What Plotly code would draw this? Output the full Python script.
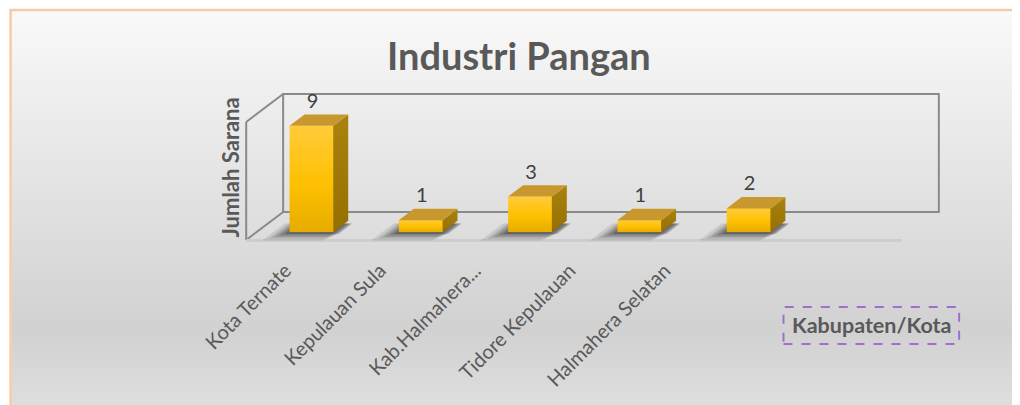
import base64, struct, zlib
import plotly.graph_objects as go

# ---------------- data ----------------
categories = ["Kota Ternate", "Kepulauan Sula", "Kab.Halmahera...", "Tidore Kepulauan", "Halmahera Selatan"]
values = [9, 1, 3, 1, 2]
chart_title = "Industri Pangan"
y_title = "Jumlah Sarana"
x_title = "Kabupaten/Kota"

# ---------------- geometry ----------------
W, H = 1020, 405
OFF = 8  # page body margin; screen px -> figure px


def fx(px):
    return (px - OFF) / W


def fy(py):
    return 1 - (py - OFF) / H


PX_L, PX_R, PX_T, PX_B = 200, 960, 80, 250  # plot area in screen px
XR = [(PX_L - 310) / 109.5, (PX_R - 310) / 109.5]
YR = [(232 - PX_B) / 11.8, (232 - PX_T) / 11.8]
X_MIN, X_MAX, V_MAX = -0.5, 5.5, 10
DX, DY = 0.338, 2.37        # full floor depth offset
TB = 0.286                  # depth of bar front plane
BD = 0.405                  # bar depth (fraction of floor depth)
BW = 0.40                   # bar width
BDX, BDY = BD * DX, BD * DY


def P(x, v, d):
    return x + (d - TB) * DX, v + (d - TB) * DY


def path(pts):
    return "M " + " L ".join(f"{x:.4f},{y:.4f}" for x, y in pts) + " Z"


# ---------------- background gradient png ----------------
def gradient_png(stops, h):
    raw = b""
    for r in range(h):
        t = r / (h - 1)
        c = stops[-1][1]
        for k in range(len(stops) - 1):
            if stops[k][0] <= t <= stops[k + 1][0]:
                t0, c0 = stops[k]
                t1, c1 = stops[k + 1]
                f = (t - t0) / (t1 - t0) if t1 > t0 else 0
                c = [round(c0[j] + (c1[j] - c0[j]) * f) for j in range(3)]
                break
        raw += b"\x00" + bytes(c)

    def chunk(tag, data):
        return struct.pack(">I", len(data)) + tag + data + struct.pack(">I", zlib.crc32(tag + data) & 0xffffffff)

    png = b"\x89PNG\r\n\x1a\n" + chunk(b"IHDR", struct.pack(">IIBBBBB", 1, h, 8, 2, 0, 0, 0))
    png += chunk(b"IDAT", zlib.compress(raw)) + chunk(b"IEND", b"")
    return "data:image/png;base64," + base64.b64encode(png).decode()


bg_src = gradient_png([(0, (249, 249, 249)), (0.787, (209, 209, 209)),
                       (0.98, (222, 222, 222)), (1, (223, 223, 223))], 400)

fig = go.Figure()

shapes = []
# frame: back wall, left wall, floor
frame_col = "#8a8a8a"
bw = [P(X_MIN, 0, 1), P(X_MAX, 0, 1), P(X_MAX, V_MAX, 1), P(X_MIN, V_MAX, 1)]
shapes.append(dict(type="path", path=path(bw), xref="x", yref="y", layer="below",
                   line=dict(color=frame_col, width=2)))
for a, b in [((X_MIN, V_MAX, 0), (X_MIN, V_MAX, 1)), ((X_MIN, 0, 0), (X_MIN, 0, 1)),
             ((X_MIN, 0, 0), (X_MIN, V_MAX, 0))]:
    (x0, y0), (x1, y1) = P(*a), P(*b)
    shapes.append(dict(type="line", x0=x0, y0=y0, x1=x1, y1=y1, xref="x", yref="y", layer="below",
                       line=dict(color=frame_col, width=2)))
(x0, y0), (x1, y1) = P(X_MIN, 0, 0), P(X_MAX, 0, 0)
shapes.append(dict(type="line", x0=x0, y0=y0 - 0.05, x1=x1, y1=y1 - 0.05, xref="x", yref="y", layer="below",
                   line=dict(color="#cdcdcd", width=3)))

# soft shadows on floor (layered to imitate blur)
for i, v in enumerate(values):
    for ex, ed, op in [(0.15, 0.30, 0.10), (0.11, 0.24, 0.13), (0.08, 0.18, 0.16),
                       (0.05, 0.12, 0.19), (0.02, 0.07, 0.22)]:
        xl = i - BW / 2 - ex
        xr = i + BW / 2 + BDX * 0.6 - ex * 0.5
        d0 = TB - ed
        d1 = TB + BD * 0.75
        pts = [P(xl, 0, d0), P(xr, 0, d0), P(xr, 0, d1), P(xl, 0, d1)]
        shapes.append(dict(type="path", path=path(pts), xref="x", yref="y", layer="below",
                           fillcolor=f"rgba(20,20,20,{op})", line=dict(width=0)))

# bars (front faces)
xs = list(range(len(categories)))
fig.add_trace(go.Bar(x=xs, y=values, width=BW, marker=dict(color="#FFC000", line=dict(width=0)),
                     hoverinfo="skip", showlegend=False))

# shading of the faces
for i, v in enumerate(values):
    xr = i + BW / 2
    xl = i - BW / 2
    front = [(xl, 0), (xr, 0), (xr, v), (xl, v), (xl, 0)]
    fig.add_trace(go.Scatter(x=[p[0] for p in front], y=[p[1] for p in front], mode="lines",
                             fill="toself", line=dict(width=0),
                             fillgradient=dict(type="vertical",
                                               colorscale=[[0, "#E6AC00"], [0.45, "#FFC000"], [1, "#FFCB3A"]]),
                             hoverinfo="skip", showlegend=False))
    side = [(xr, 0), (xr, v), (xr + BDX, v + BDY), (xr + BDX, BDY), (xr, 0)]
    fig.add_trace(go.Scatter(x=[p[0] for p in side], y=[p[1] for p in side], mode="lines",
                             fill="toself", line=dict(width=0),
                             fillgradient=dict(type="vertical",
                                               colorscale=[[0, "#957000"], [1, "#A9830F"]]),
                             hoverinfo="skip", showlegend=False))
    top = [(xl, v), (xr, v), (xr + BDX, v + BDY), (xl + BDX, v + BDY), (xl, v)]
    fig.add_trace(go.Scatter(x=[p[0] for p in top], y=[p[1] for p in top], mode="lines",
                             fill="toself", fillcolor="#C8982F", line=dict(width=0),
                             hoverinfo="skip", showlegend=False))

# data labels
fig.add_trace(go.Scatter(x=[i + 0.01 for i in xs], y=[v + 1.95 for v in values], mode="text",
                         text=[str(v) for v in values], textposition="middle center",
                         textfont=dict(family="Lato", size=20, color="#404040"),
                         hoverinfo="skip", showlegend=False))

# category label axis (spacing as in the reference's perspective)
L0, LS = 284, 95  # screen px of first label tick, spacing
fig.add_trace(go.Scatter(x=xs, y=[0] * len(xs), xaxis="x2", mode="markers",
                         marker=dict(opacity=0), hoverinfo="skip", showlegend=False))

# border + x-title box
shapes.append(dict(type="rect", xref="paper", yref="paper", x0=0.6 / W, x1=1.05, y0=-0.05, y1=1 - 2 / H,
                   line=dict(color="#F8C9A6", width=2.5), layer="above"))
shapes.append(dict(type="rect", xref="paper", yref="paper", x0=fx(783), x1=fx(959),
                   y0=fy(344), y1=fy(307), line=dict(color="#9E6FCF", width=2, dash="dash")))

annotations = [
    dict(text=chart_title, x=fx(517.5), y=fy(55), xref="paper", yref="paper", showarrow=False,
         xanchor="center", yanchor="middle", font=dict(family="Lato", size=38, color="#595959", weight="bold")),
    dict(text=y_title, x=fx(228), y=fy(168), xref="paper", yref="paper", showarrow=False, textangle=-90,
         xanchor="center", yanchor="middle", font=dict(family="Lato", size=22, color="#595959", weight="bold")),
    dict(text=x_title, x=fx(871), y=fy(325), xref="paper", yref="paper", showarrow=False,
         xanchor="center", yanchor="middle", font=dict(family="Lato", size=21.5, color="#595959", weight="bold")),
]

fig.update_layout(
    width=W, height=H, margin=dict(l=0, r=0, t=0, b=0),
    paper_bgcolor="white", plot_bgcolor="rgba(0,0,0,0)",
    shapes=shapes, annotations=annotations, showlegend=False, bargap=0,
    images=[dict(source=bg_src, xref="paper", yref="paper", x=1.5 / W, y=1 - 2.5 / H,
                 sizex=1, sizey=1, xanchor="left", yanchor="top",
                 sizing="stretch", layer="below")],
    xaxis=dict(domain=[fx(PX_L), fx(PX_R)], range=XR, visible=False, fixedrange=True),
    yaxis=dict(domain=[fy(PX_B), fy(PX_T)], range=YR, visible=False, fixedrange=True),
    xaxis2=dict(overlaying="x", domain=[fx(PX_L), fx(PX_R)], anchor="free", position=fy(254),
                range=[(PX_L - L0) / LS, (PX_R - L0) / LS], tickvals=xs, ticktext=categories,
                tickangle=-45, tickfont=dict(family="Lato", size=20, color="#595959"),
                showgrid=False, zeroline=False, showline=False, ticks="", fixedrange=True),
)

fig.write_html("out.html")
